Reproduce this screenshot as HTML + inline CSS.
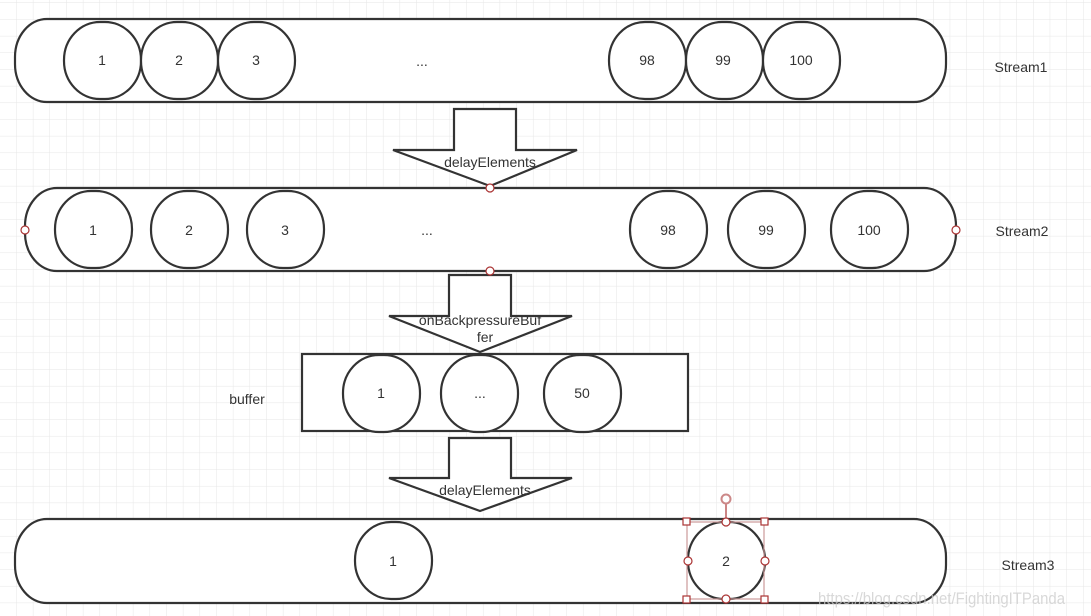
<!DOCTYPE html>
<html><head><meta charset="utf-8"><style>
html,body{margin:0;padding:0;background:#fff}
svg{display:block}
text{font-family:"Liberation Sans",sans-serif;font-size:14px;fill:#333}
</style></head><body>
<svg width="1091" height="616" viewBox="0 0 1091 616">
<defs>
<pattern id="g" width="16.67" height="16.67" patternUnits="userSpaceOnUse" x="0" y="3">
<path d="M16.67 0V16.67M0 16.67H16.67" stroke="#e6e6e6" stroke-width="1" fill="none"/>
</pattern>
</defs>
<rect width="1091" height="616" fill="url(#g)"/>
<g stroke="#333" stroke-width="2.2" fill="#fff">
<rect x="15" y="19" width="931" height="83" rx="32" ry="38"/>
<rect x="64" y="22" width="77" height="77" rx="36" ry="38"/>
<rect x="141" y="22" width="77" height="77" rx="36" ry="38"/>
<rect x="218" y="22" width="77" height="77" rx="36" ry="38"/>
<rect x="609" y="22" width="77" height="77" rx="36" ry="38"/>
<rect x="686" y="22" width="77" height="77" rx="36" ry="38"/>
<rect x="763" y="22" width="77" height="77" rx="36" ry="38"/>

<polygon points="454,109 516,109 516,150 577,150 490,186 393,150 454,150"/>

<rect x="25" y="188" width="931" height="83" rx="32" ry="38"/>
<rect x="55" y="191" width="77" height="77" rx="36" ry="38"/>
<rect x="151" y="191" width="77" height="77" rx="36" ry="38"/>
<rect x="247" y="191" width="77" height="77" rx="36" ry="38"/>
<rect x="630" y="191" width="77" height="77" rx="36" ry="38"/>
<rect x="728" y="191" width="77" height="77" rx="36" ry="38"/>
<rect x="831" y="191" width="77" height="77" rx="36" ry="38"/>

<polygon points="449,275 511,275 511,316 572,316 480,352 389,316 449,316"/>

<rect x="302" y="354" width="386" height="77"/>
<rect x="343" y="355" width="77" height="77" rx="36" ry="38"/>
<rect x="441" y="355" width="77" height="77" rx="36" ry="38"/>
<rect x="544" y="355" width="77" height="77" rx="36" ry="38"/>

<polygon points="449,438 511,438 511,478 572,478 480,511 389,478 449,478"/>

<rect x="15" y="519" width="931" height="84" rx="32" ry="38"/>
<rect x="355" y="522" width="77" height="77" rx="36" ry="38"/>
<rect x="688" y="522" width="77" height="77" rx="36" ry="38"/>
</g>
<g fill="#fff" stroke="#a33" stroke-width="1.2">
<circle cx="490" cy="188" r="4"/><circle cx="490" cy="271" r="4"/>
<circle cx="25" cy="230" r="4"/><circle cx="956" cy="230" r="4"/>
<rect x="687" y="522" width="77" height="77" fill="none" stroke="#c99"/>
<line x1="726" y1="503" x2="726" y2="522"/>
<circle cx="726" cy="499" r="4.5" stroke="#c88" stroke-width="2"/>
<rect x="683" y="518" width="7" height="7"/><rect x="761" y="518" width="7" height="7"/>
<rect x="683" y="596" width="7" height="7"/><rect x="761" y="596" width="7" height="7"/>
<circle cx="726" cy="522" r="4"/><circle cx="726" cy="599" r="4"/>
<circle cx="688" cy="561" r="4"/><circle cx="765" cy="561" r="4"/>
</g>
<g text-anchor="middle">
<text x="102" y="65">1</text><text x="179" y="65">2</text><text x="256" y="65">3</text>
<text x="422" y="66">...</text>
<text x="647" y="65">98</text><text x="723" y="65">99</text><text x="801" y="65">100</text>
<text x="490" y="167">delayElements</text>
<text x="93" y="235">1</text><text x="189" y="235">2</text><text x="285" y="235">3</text>
<text x="427" y="235">...</text>
<text x="668" y="235">98</text><text x="766" y="235">99</text><text x="869" y="235">100</text>
<text x="480" y="325">onBackpressureBuf</text>
<text x="485" y="342">fer</text>
<text x="381" y="398">1</text><text x="480" y="398">...</text><text x="582" y="398">50</text>
<text x="247" y="404">buffer</text>
<text x="485" y="495">delayElements</text>
<text x="393" y="566">1</text><text x="726" y="566">2</text>
<text x="1021" y="72">Stream1</text>
<text x="1022" y="236">Stream2</text>
<text x="1028" y="570">Stream3</text>
</g>
<text x="818" y="604" textLength="247" lengthAdjust="spacingAndGlyphs" style="font-size:17px;fill:#ccc;opacity:.75">https://blog.csdn.net/FightingITPanda</text>
</svg>
</body></html>
